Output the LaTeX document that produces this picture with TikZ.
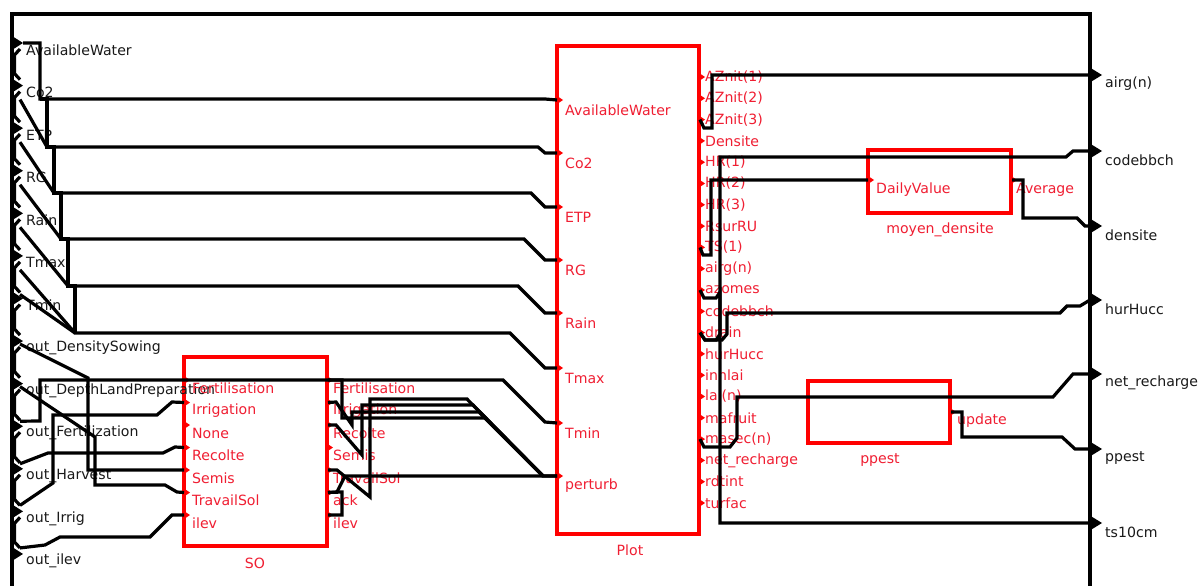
\documentclass[tikz,border=0pt]{standalone}
\usepackage{fontspec}
\setmainfont{DejaVu Sans}
\definecolor{boxred}{RGB}{255,0,0}
\definecolor{txtred}{RGB}{240,30,50}
\definecolor{txtdark}{RGB}{25,25,25}
\begin{document}
\begin{tikzpicture}[x=1pt,y=-1pt,
  wire/.style={line width=3.2pt,black,line join=miter},
  frameline/.style={line width=3.6pt,black},
  blockbox/.style={draw=boxred,line width=3.2pt},
  txt/.style={font=\fontsize{14.1}{15}\selectfont,inner sep=0pt,anchor=west,text=txtdark},
  rtxt/.style={txt,text=txtred},
  ctxt/.style={rtxt,anchor=center}]
\useasboundingbox (0,0) rectangle (1203,586);
\clip (0,0) rectangle (1203,586);
\fill[white] (0,0) rectangle (1203,586);

% ---------- blocks ----------
\draw[blockbox] (184,357) rectangle (327,546);
\node[ctxt] (SOname) at (255,563) {SO};
\draw[blockbox] (557,46) rectangle (699,534);
\node[ctxt] (Plotname) at (630,550) {Plot};
\draw[blockbox] (868,150) rectangle (1011,213);
\node[ctxt] (mdname) at (940,230) {moyen\_densite};
\draw[blockbox] (808,381) rectangle (950,443);
\node[ctxt] (ppname) at (880,460) {ppest};

% ---------- left input ports of the coupled model ----------
\foreach \i/\t in {0/AvailableWater,1/Co2,2/ETP,3/RG,4/Rain,5/Tmax,6/Tmin,7/out\_DensitySowing,8/out\_DepthLandPreparation,9/out\_Fertilization,10/out\_Harvest,11/out\_Irrig,12/out\_ilev}{
  \pgfmathsetmacro\ty{43+42.58*\i}
  \fill (12,\ty-7) -- (23,\ty) -- (12,\ty+7) -- cycle;
  \coordinate (in\i) at (23,\ty);
  \node[txt] (inl\i) at (26,\ty+7) {\t};
}
\foreach \i in {0,...,11}{
  \pgfmathsetmacro\a{43+42.58*\i}
  \pgfmathsetmacro\b{43+42.58*(\i+1)}
  \draw[wire] (20,\a+6) -- (14.5,\a+12) -- (14.5,\b-12) -- (20,\b-6);
}

% ---------- right output ports of the coupled model ----------
\foreach \i/\y/\t in {1/75/airg(n),2/151/codebbch,3/226/densite,4/300/hurHucc,5/374/net\_recharge,6/449/ppest,7/523/ts10cm}{
  \fill (1089,\y-8) -- (1102,\y) -- (1089,\y+8) -- cycle;
  \coordinate (out\i) at (1090,\y);
  \node[txt] (outl\i) at (1105,\y+9) {\t};
}

% ---------- Plot ports ----------
\foreach \i/\y/\t in {1/100/AvailableWater,2/153/Co2,3/207/ETP,4/260/RG,5/313/Rain,6/368/Tmax,7/423/Tmin,8/476/perturb}{
  \fill[boxred] (557,\y-4) -- (563,\y) -- (557,\y+4) -- cycle;
  \coordinate (pI\i) at (557,\y);
  \node[rtxt] (pIl\i) at (565,\y+10) {\t};
}
\foreach \t [count=\i] in {AZnit(1),AZnit(2),AZnit(3),Densite,HR(1),HR(2),HR(3),RsurRU,TS(1),airg(n),azomes,codebbch,drain,hurHucc,innlai,lai(n),mafruit,masec(n),net\_recharge,rdtint,turfac}{
  \pgfmathsetmacro\py{77+21.3*(\i-1)}
  \fill[boxred] (699,\py-4) -- (705,\py) -- (699,\py+4) -- cycle;
  \coordinate (pO\i) at (700,\py);
  \node[rtxt] (pOl\i) at (705,\py) {\t};
}

% ---------- SO ports ----------
\foreach \t [count=\i] in {Fertilisation,Irrigation,None,Recolte,Semis,TravailSol,ilev}{
  \pgfmathsetmacro\sy{380+22.5*(\i-1)}
  \fill[boxred] (184,\sy-4) -- (190,\sy) -- (184,\sy+4) -- cycle;
  \coordinate (soI\i) at (184,\sy);
  \node[rtxt] (soIl\i) at (192,\sy+8) {\t};
}
\foreach \t [count=\i] in {Fertilisation,Irrigation,Recolte,Semis,TravailSol,ack,ilev}{
  \pgfmathsetmacro\sy{380+22.5*(\i-1)}
  \fill[boxred] (327,\sy-4) -- (333,\sy) -- (327,\sy+4) -- cycle;
  \coordinate (soO\i) at (328,\sy);
  \node[rtxt] (soOl\i) at (333,\sy+8) {\t};
}

% ---------- moyen_densite and ppest ports ----------
\fill[boxred] (868,176) -- (874,180) -- (868,184) -- cycle;
\coordinate (mdIn) at (868,180);
\node[rtxt] (mdInl) at (876,190) {DailyValue};
\fill[boxred] (1011,176) -- (1017,180) -- (1011,184) -- cycle;
\coordinate (mdOut) at (1012,180);
\node[rtxt] (mdOutl) at (1016,190) {Average};
\fill[boxred] (950,408) -- (956,412) -- (950,416) -- cycle;
\coordinate (ppOut) at (951,412);
\node[rtxt] (ppOutl) at (957,421) {update};

% ---------- wires: inputs -> Plot ----------
\draw[wire] (in0) -- (40,43) -- (40,99) -- (545,99) -- (pI1);
\draw[wire] (40,99) -- (47,99) -- (47,147) -- (54,147) -- (54,193) -- (61,193) -- (61,239) -- (68,239) -- (68,286) -- (75,286) -- (75,333);
\draw[wire] (in1) ++(-3,14) -- (47,147) -- (538,147) -- (545,153) -- (pI2);
\draw[wire] (in2) ++(-3,14) -- (54,193) -- (531,193) -- (545,207) -- (pI3);
\draw[wire] (in3) ++(-3,14) -- (61,239) -- (524,239) -- (545,260) -- (pI4);
\draw[wire] (in4) ++(-3,14) -- (68,286) -- (518,286) -- (545,313) -- (pI5);
\draw[wire] (in5) ++(-3,14) -- (75,333) -- (510,333) -- (545,368) -- (pI6);
\draw[wire] (in6) ++(-3,-4) -- (75,333);
\draw[wire] (in9) ++(-3,-5) -- (40,421) -- (40,380) -- (503,380) -- (545,422) -- (pI7);

% ---------- wires: inputs -> SO ----------
\draw[wire] (in11) ++(-3,-6) -- (53,483) -- (53,415) -- (157,415) -- (172,402) -- (soI2);
\draw[wire] (in10) ++(-3,-5) -- (48,453) -- (163,453) -- (175,447) -- (soI4);
\draw[wire] (in7) ++(-3,3) -- (88,378) -- (88,470) -- (soI5);
\draw[wire] (in8) ++(-3,3) -- (95,437) -- (95,485) -- (165,485) -- (177,492) -- (soI6);
\draw[wire] (in12) ++(-3,-6) -- (45,545) -- (60,537) -- (150,537) -- (172,515) -- (soI7);

% ---------- wires: SO -> Plot.perturb ----------
\draw[wire] (soO1) -- (342,380) -- (342,418) -- (485,418) -- (543,476) -- (pI8);
\draw[wire] (soO2) -- (336,402) -- (352,425) -- (352,412) -- (479,412) -- (543,476);
\draw[wire] (soO3) -- (336,425) -- (362,455) -- (362,405) -- (473,405) -- (543,476);
\draw[wire] (soO5) -- (337,470) -- (370,497) -- (370,399) -- (467,399) -- (543,476);
\draw[wire] (soO6) -- (337,492) -- (345,476) -- (pI8);
\draw[wire] (soO7) -- (342,515) -- (342,492) -- (soO6);

% ---------- wires: Plot -> outputs ----------
\draw[wire] (pO3) -- (704,128) -- (712,128) -- (712,75) -- (out1);
\draw[wire] (pO9) -- (703,255) -- (711,255) -- (711,180) -- (mdIn);
\draw[wire] (pO11) -- (704,298) -- (716,298) -- (720,292) -- (720,523) -- (out7);
\draw[wire] (pO13) -- (705,340) -- (716,340) -- (720,334) -- (720,157) -- (1066,157) -- (1073,151) -- (out2);
\draw[wire] (pO13) -- (705,340) -- (722,340) -- (727,334) -- (727,313) -- (1060,313) -- (1067,306) -- (1080,306) -- (out4);
\draw[wire] (pO18) -- (704,447) -- (730,447) -- (737,438) -- (737,397) -- (1053,397) -- (1073,374) -- (out5);
\draw[wire] (mdOut) -- (1023,180) -- (1023,218) -- (1077,218) -- (1085,226) -- (out3);
\draw[wire] (ppOut) -- (962,412) -- (962,437) -- (1062,437) -- (1075,449) -- (out6);

% ---------- frame ----------
\draw[frameline] (12,600) -- (12,14) -- (1090,14) -- (1090,600);
\end{tikzpicture}
\end{document}
